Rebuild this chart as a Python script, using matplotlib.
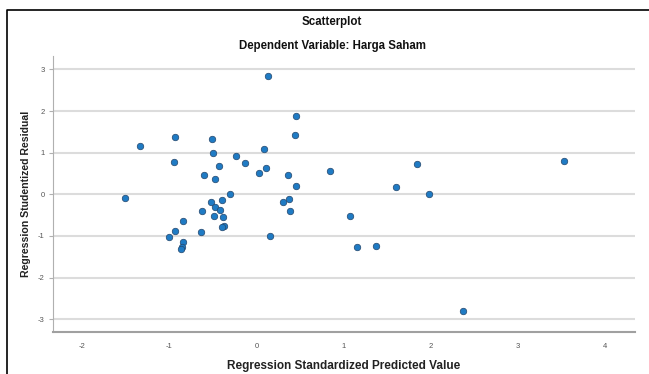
import matplotlib
matplotlib.use('Agg')
import matplotlib.pyplot as plt
from matplotlib.lines import Line2D

# standardized predicted value / studentized residual
pred = [0.46, -0.93, -0.51, -1.34, 0.44, 0.09, -0.50, -0.23, -0.95, -0.13,
        -0.43, 0.11, 0.03, -0.60, 0.36, 0.84, -0.47, 0.45, -0.30, -1.51,
        -0.39, -0.52, 0.30, 0.37, -0.47, -0.42, -0.62, 0.39, -0.49, -0.38,
        -0.84, -0.37, -0.39, -0.93, -0.64, -1.00, 0.16, -0.84, -0.85, -0.86,
        0.13, 1.07, 1.16, 1.37, 1.60, 1.84, 1.98, 2.37, 3.53]
resid = [1.89, 1.38, 1.34, 1.16, 1.42, 1.09, 0.99, 0.92, 0.77, 0.75,
         0.69, 0.64, 0.51, 0.47, 0.47, 0.55, 0.37, 0.21, 0.01, -0.08,
         -0.14, -0.18, -0.18, -0.12, -0.31, -0.37, -0.39, -0.40, -0.51, -0.55,
         -0.65, -0.75, -0.79, -0.89, -0.91, -1.02, -1.00, -1.15, -1.27, -1.32,
         2.83, -0.52, -1.26, -1.24, 0.18, 0.72, 0.00, -2.80, 0.79]

xticks = [-2, -1, 0, 1, 2, 3, 4]
yticks = [-3, -2, -1, 0, 1, 2, 3]

plt.rcParams['font.family'] = ['Liberation Sans', 'DejaVu Sans']
plt.rcParams['axes.unicode_minus'] = False

fig = plt.figure(figsize=(6.49, 3.74), dpi=100)
ax = fig.add_axes([0.082, 0.112, 0.896, 0.738])

# frame: only top and left edges show in the picture
fx, fy = 7 / 649, 1 - 10 / 374
fig.lines.append(Line2D([fx, fx, 1], [0, fy, fy], transform=fig.transFigure,
                        color='black', linewidth=1.2))

ax.scatter(pred, resid, s=22, color='#1f7bc4', edgecolor='#24466b',
           linewidth=0.5, zorder=3)

ax.set_xlim(-2.33, 4.34)
ax.set_ylim(-3.31, 3.32)
ax.set_xticks(xticks)
ax.set_yticks(yticks)
ax.yaxis.grid(True, color='#dcdcdc', linewidth=1.5)
ax.set_axisbelow(True)

for s in ['top', 'right']:
    ax.spines[s].set_visible(False)
ax.spines['left'].set_color('#b0b0b0')
ax.spines['bottom'].set_color('#a0a0a0')
ax.spines['bottom'].set_linewidth(1.5)

ax.tick_params(axis='x', length=0, pad=8, labelsize=5.5, labelcolor='#555555')
ax.tick_params(axis='y', length=3, color='#b0b0b0', pad=3, labelsize=5.5,
               labelcolor='#555555')

ax.set_xlabel('Regression Standardized Predicted Value', fontsize=8.5,
              fontweight='bold', color='#222222')
ax.set_ylabel('Regression Studentized Residual', fontsize=7.6,
              fontweight='bold', color='#222222')
ax.xaxis.set_label_coords(0.5, -0.100)
ax.yaxis.set_label_coords(-0.038, 0.5)

fig.text(0.512, 1 - 22 / 374, 'Scatterplot', ha='center', va='center',
         fontsize=8.3, fontweight='bold', color='#111111')
fig.text(0.512, 1 - 46 / 374, 'Dependent Variable: Harga Saham', ha='center',
         va='center', fontsize=8.3, fontweight='bold', color='#111111')

plt.savefig('out.png', dpi=100)
